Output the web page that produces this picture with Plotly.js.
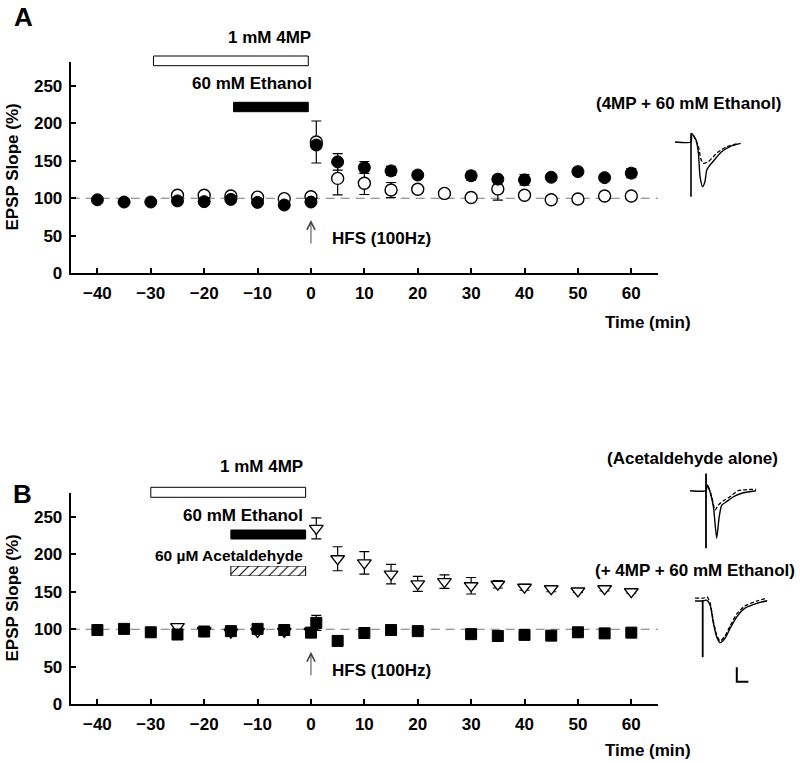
<!DOCTYPE html>
<html><head><meta charset="utf-8">
<script src="https://cdn.plot.ly/plotly-3.0.1.min.js"></script>
<style>html,body{margin:0;padding:0;background:#fff}#chart{width:800px;height:763px}</style>
</head><body><div id="chart"></div>
<script>
// ---------- Panel A data (EPSP slope %, time in min) ----------
const timeA_ethanol  = [-40,-35,-30,-25,-20,-15,-10,-5,0,1,5,10,15,20,30,35,40,45,50,55,60];
const slopeA_ethanol = [98,95,95,96.5,95.5,98.5,94.5,91,95,171,148.5,141,136.5,131,130,125.5,124.5,128,135.5,127.5,133.5];
const errA_ethanol   = [2,2,2,2,2,2,2,2,2,5,11,8,6,4,6,5,7,4,5,4,6];
const timeA_control  = [-25,-20,-15,-10,-5,0,1,5,10,15,20,25,30,35,40,45,50,55,60];
const slopeA_control = [104,104,103,101.5,99.5,102,175,126.5,120,111,112,106.5,101,112.5,104,98,99,103,103];
const errA_control   = [2,2,2,2,2,2,28,22,15,10,5,4,3,15,3,3,3,3,3];

// ---------- Panel B data ----------
const timeB_acet  = [-25,-20,-15,-10,-5,0,1,5,10,15,20,25,30,35,40,45,50,55,60];
const slopeB_acet = [103.5,98,96,97,97,97,234.5,194,188.5,173.5,160.5,163.5,158,160,156,154,151,154,150];
const errB_acet   = [2,2,2,2,2,2,14,16,15,13,10,9,11,5,4,4,2,3,2];
const timeB_mix   = [-40,-35,-30,-25,-20,-15,-10,-5,0,1,5,10,15,20,30,35,40,45,50,55,60];
const slopeB_mix  = [99,100.5,96,93,97,97.5,100.5,99,95.5,108.5,84.5,95,99,97.5,93.5,91,92.5,91.5,96,94.5,95.5];
const errB_mix    = [2,2,2,2,2,2,2,2,2,10,6,2,2,2,2,2,2,2,2,2,2];

// drug application windows (min)
const winA_4MP = [-29.5,-0.5], winA_EtOH = [-14.5,-0.5];
const winB_4MP = [-30,-1], winB_EtOH = [-15,-1], winB_Acet = [-15,-1];

// axis ticks
const xTicks = [-40,-30,-20,-10,0,10,20,30,40,50,60];
const yTicks = [0,50,100,150,200,250];

// sample EPSP traces (time ms, amplitude mV)
const insA_solid_t = [-6.9,0,0.3,2.2,3.2,3.9,5.0,6.0,6.8,8.2,10.3,13.2,16.8,21.4];
const insA_solid_v = [0,0,0.3,0.07,-0.39,-1.2,-1.55,-1.38,-0.97,-0.8,-0.6,-0.34,-0.16,-0.05];
const insA_dash_t  = [1.0,3.2,4.2,5.3,7.5,9.6,11.8,15.4,20.4];
const insA_dash_v  = [0.24,-0.16,-0.57,-0.74,-0.68,-0.51,-0.34,-0.16,-0.05];
const insA_art_v   = [0.3,-1.9];
const insB1_solid_t = [-6.9,0,0.6,1.7,3.2,4.6,5.7,6.8,8.9,11.8,16.1,21.6];
const insB1_solid_v = [0,0,0.2,-0.03,-0.56,-1.65,-0.9,-0.5,-0.38,-0.21,-0.07,0];
const insB1_dash_t  = [1.0,2.5,3.9,5.3,7.5,10.3,13.9,21.6];
const insB1_dash_v  = [0.14,-0.21,-0.67,-0.5,-0.35,-0.21,0,0.05];
const insB1_art_v   = [0.6,-2.0];
const insB2_solid_t = [-3.3,0,0.3,1.7,3.2,4.6,6.0,7.5,9.6,11.8,14.7,18.2,23.3,27.8];
const insB2_solid_v = [0,0,0.01,0.03,-0.14,-0.77,-1.24,-1.45,-1.3,-0.95,-0.55,-0.25,-0.08,0.01];
const insB2_dash_t  = [-3.3,0,0.3,1.9,3.2,4.6,6.0,7.5,9.6,11.8,14.7,18.2,23.3,27.8];
const insB2_dash_v  = [0.1,0.1,0.1,0.14,-0.07,-0.69,-1.18,-1.39,-1.22,-0.87,-0.45,-0.17,0,0.1];
const insB2_art_v   = [0.03,-1.95];
const scaleBar_t = [14.7,14.7,19.7];   // 5 ms
const scaleBar_v = [-2.3,-2.8,-2.8];   // 0.5 mV

// ---------- layout helpers ----------
const W = 800, H = 763;
const FONT = 'Liberation Sans, Arial, sans-serif';
const FS = 17;
const xd = px => px / W;
const yd = py => 1 - py / H;
const SX = 2.32, SY = 28.8; // px per ms, px per mV for inset traces

function mainX(anchor){
  return {domain:[xd(70.7), xd(658)], range:[-45,65], anchor:anchor,
    showline:true, linewidth:2, linecolor:'#000', mirror:false,
    ticks:'inside', ticklen:5, tickwidth:2, tickcolor:'#000', ticklabelstandoff:3,
    tickmode:'array', tickvals:xTicks, showgrid:false, zeroline:false,
    tickfont:{family:FONT, size:FS, color:'#000', weight:'bold'}, fixedrange:true};
}
function mainY(anchor, top, bottom){
  return {domain:[yd(bottom), yd(top)], range:[0,282], anchor:anchor,
    showline:true, linewidth:2, linecolor:'#000',
    ticks:'inside', ticklen:5, tickwidth:2, tickcolor:'#000', ticklabelstandoff:3,
    tickmode:'array', tickvals:yTicks, showgrid:false, zeroline:false,
    tickfont:{family:FONT, size:FS, color:'#000', weight:'bold'}, fixedrange:true};
}
function insetAxes(box, org, anchX, anchY){
  return [
    {domain:[xd(box[0]), xd(box[1])], range:[(box[0]-org[0])/SX, (box[1]-org[0])/SX], visible:false, anchor:anchY, fixedrange:true},
    {domain:[yd(box[3]), yd(box[2])], range:[-(box[3]-org[1])/SY, -(box[2]-org[1])/SY], visible:false, anchor:anchX, fixedrange:true}
  ];
}
const insA  = insetAxes([668,748,128,202], [691,142], 'x3','y3');
const insB1 = insetAxes([685,762,470,552], [706,490.7], 'x4','y4');
const insB2 = insetAxes([690,772,595,688], [702.7,601], 'x5','y5');

function errBar(arr){ return {type:'data', array:arr, visible:true, color:'#000', thickness:1.2, width:5}; }

const traces = [
  // Panel A
  {x:timeA_control, y:slopeA_control, error_y:errBar(errA_control), mode:'markers', type:'scatter', name:'Control',
   marker:{symbol:'circle', size:12, color:'#fff', line:{color:'#000', width:1.4}}, xaxis:'x', yaxis:'y', cliponaxis:false},
  {x:timeA_ethanol, y:slopeA_ethanol, error_y:errBar(errA_ethanol), mode:'markers', type:'scatter', name:'4MP + 60 mM Ethanol',
   marker:{symbol:'circle', size:12, color:'#000', line:{color:'#000', width:1}}, xaxis:'x', yaxis:'y', cliponaxis:false},
  // Panel B
  {x:timeB_acet, y:slopeB_acet, error_y:errBar(errB_acet), mode:'markers', type:'scatter', name:'Acetaldehyde alone',
   marker:{symbol:'triangle-down', size:12, color:'#fff', line:{color:'#000', width:1.3}}, xaxis:'x2', yaxis:'y2', cliponaxis:false},
  {x:timeB_mix, y:slopeB_mix, error_y:errBar(errB_mix), mode:'markers', type:'scatter', name:'+ 4MP + 60 mM Ethanol',
   marker:{symbol:'square', size:11, color:'#000', line:{color:'#000', width:1}}, xaxis:'x2', yaxis:'y2', cliponaxis:false},
  // hatched acetaldehyde bar
  {type:'bar', orientation:'h', y:[0], x:[winB_Acet[1]-winB_Acet[0]], base:[winB_Acet[0]], width:[1],
   marker:{color:'#fff', line:{color:'#000', width:1}, pattern:{shape:'/', fgcolor:'#000', bgcolor:'#fff', size:7, solidity:0.15}},
   xaxis:'x6', yaxis:'y6', hoverinfo:'skip'},
];
function wave(t, v, ax, dash, w){
  return {x:t, y:v, mode:'lines', type:'scatter', xaxis:ax[0], yaxis:ax[1], cliponaxis:false, hoverinfo:'skip',
    line:{color:'#000', width:w||1.4, dash:dash||'solid', shape:'spline', smoothing:0.6}};
}
traces.push(wave(insA_solid_t, insA_solid_v, ['x3','y3']));
traces.push(wave(insA_dash_t, insA_dash_v, ['x3','y3'], '4px,2px', 1.3));
traces.push(wave([0,0], insA_art_v, ['x3','y3'], 'solid', 1.6));
traces.push(wave(insB1_solid_t, insB1_solid_v, ['x4','y4']));
traces.push(wave(insB1_dash_t, insB1_dash_v, ['x4','y4'], '4px,2px', 1.3));
traces.push(wave([0,0], insB1_art_v, ['x4','y4'], 'solid', 1.8));
traces.push(wave(insB2_solid_t, insB2_solid_v, ['x5','y5']));
traces.push(wave(insB2_dash_t, insB2_dash_v, ['x5','y5'], '4px,2px', 1.3));
traces.push(wave([0,0], insB2_art_v, ['x5','y5'], 'solid', 1.8));
traces.push({x:scaleBar_t, y:scaleBar_v, mode:'lines', type:'scatter', xaxis:'x5', yaxis:'y5', cliponaxis:false,
  hoverinfo:'skip', line:{color:'#000', width:2}});

function rect(win, top, bottom, fill){
  return {type:'rect', xref:'x', yref:'paper', x0:win[0], x1:win[1], y0:yd(bottom), y1:yd(top),
    fillcolor:fill, line:{color:'#000', width:1}, layer:'above'};
}
function rectB(win, top, bottom, fill){
  const r = rect(win, top, bottom, fill); r.xref = 'x2'; return r;
}
const shapes = [
  {type:'line', xref:'x domain', x0:0, x1:1, yref:'y', y0:100, y1:100, line:{color:'#777', width:1, dash:'9px,6px'}, layer:'below'},
  {type:'line', xref:'x2 domain', x0:0, x1:1, yref:'y2', y0:100, y1:100, line:{color:'#777', width:1, dash:'9px,6px'}, layer:'below'},
  rect(winA_4MP, 56, 65.7, '#fff'),
  rect(winA_EtOH, 102.3, 111.7, '#000'),
  rectB(winB_4MP, 487.3, 497.3, '#fff'),
  rectB(winB_EtOH, 530, 539, '#000'),
];

function txt(text, px, py, anchor, size, angle){
  return {text:'<b>'+text+'</b>', x:xd(px), y:yd(py), xref:'paper', yref:'paper', xanchor:anchor, yanchor:'middle',
    showarrow:false, textangle:angle||0, font:{family:FONT, size:size||FS, color:'#000'}};
}
const annotations = [
  txt('A', 23, 17, 'center', 26),
  txt('1 mM 4MP', 313, 37.5, 'right'),
  txt('60 mM Ethanol', 314, 83.5, 'right'),
  txt('HFS (100Hz)', 330, 238, 'left'),
  txt('(4MP + 60 mM Ethanol)', 783, 103, 'right'),
  txt('Time (min)', 603, 322, 'left'),
  txt('EPSP Slope (%)', 12, 167.5, 'center', FS, -90),
  txt('B', 22, 494, 'center', 26),
  txt('1 mM 4MP', 305, 466, 'right'),
  txt('60 mM Ethanol', 305, 515, 'right'),
  txt('60 µM Acetaldehyde', 305, 555, 'right', 15.5),
  txt('HFS (100Hz)', 330, 670, 'left'),
  txt('(Acetaldehyde alone)', 780, 459, 'right'),
  txt('(+ 4MP + 60 mM Ethanol)', 797, 570, 'right'),
  txt('Time (min)', 603, 750, 'left'),
  txt('EPSP Slope (%)', 12, 598.5, 'center', FS, -90),
  {text:'', xref:'x', yref:'y', x:0, y:71, ax:0, ay:25, showarrow:true, arrowhead:5, arrowsize:1.6, arrowwidth:1, arrowcolor:'#444'},
  {text:'', xref:'x2', yref:'y2', x:0, y:70, ax:0, ay:25, showarrow:true, arrowhead:5, arrowsize:1.6, arrowwidth:1, arrowcolor:'#444'},
];

const layout = {
  width:W, height:H, margin:{l:0, r:0, t:0, b:0}, paper_bgcolor:'#fff', plot_bgcolor:'rgba(0,0,0,0)',
  showlegend:false, hovermode:false, font:{family:FONT, color:'#000'},
  xaxis: mainX('y'), yaxis: mainY('x', 61.7, 273.3),
  xaxis2: mainX('y2'), yaxis2: mainY('x2', 492.7, 704.3),
  xaxis3: insA[0], yaxis3: insA[1],
  xaxis4: insB1[0], yaxis4: insB1[1],
  xaxis5: insB2[0], yaxis5: insB2[1],
  xaxis6: {domain:[xd(70.7), xd(658)], range:[-45,65], visible:false, anchor:'y6', fixedrange:true},
  yaxis6: {domain:[yd(576), yd(566)], range:[-0.5,0.5], visible:false, anchor:'x6', fixedrange:true},
  shapes: shapes, annotations: annotations,
};
Plotly.newPlot('chart', traces, layout, {staticPlot:true, displayModeBar:false});
</script></body></html>
